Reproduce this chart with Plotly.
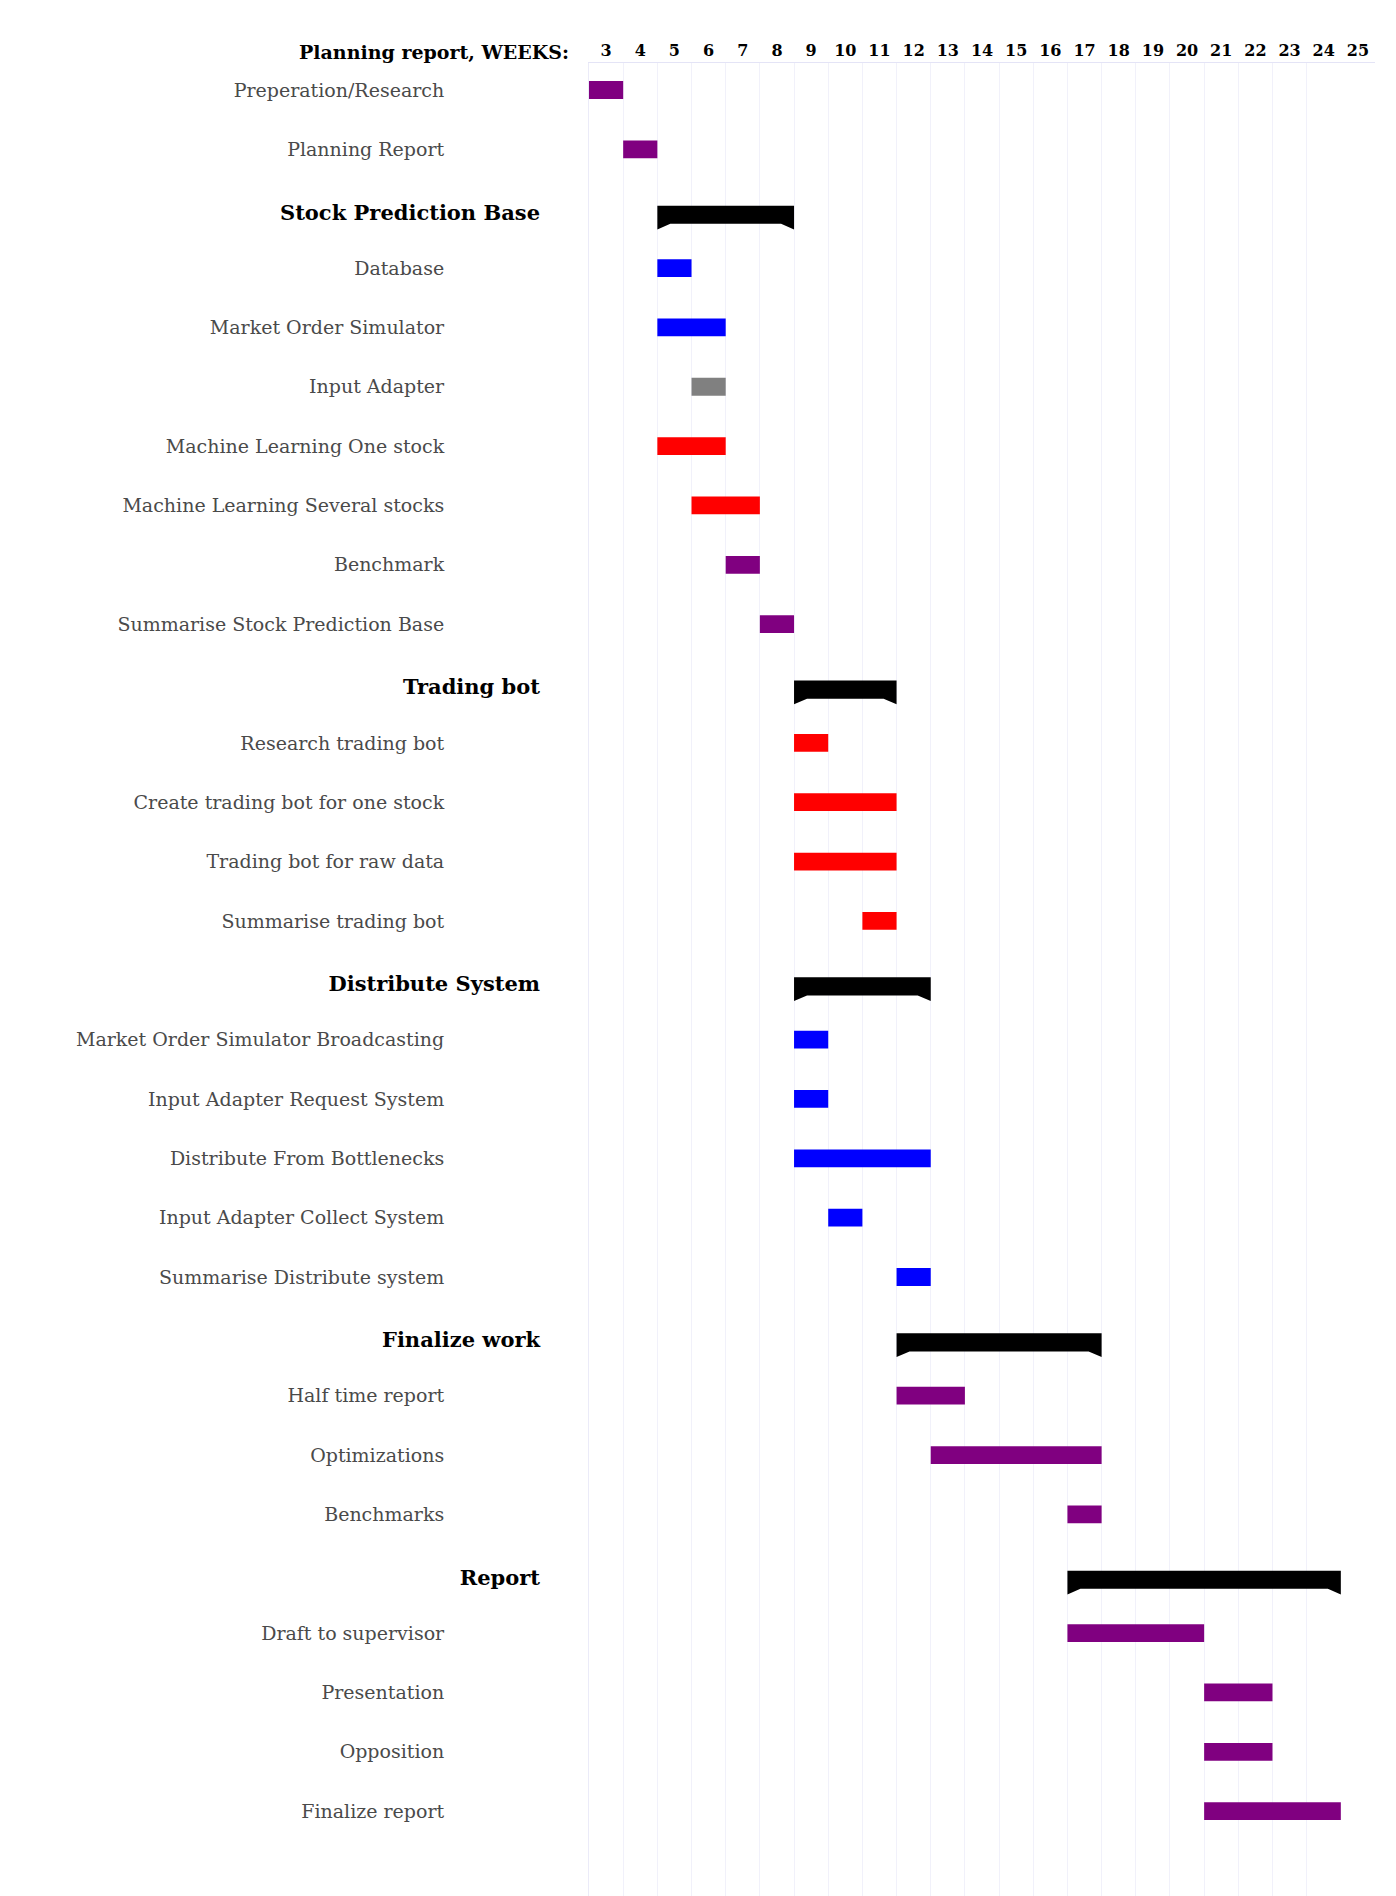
import plotly.graph_objects as go

# ---------------- data ----------------
row_labels = [
    "Preperation/Research", "Planning Report",
    "Stock Prediction Base",
    "Database", "Market Order Simulator", "Input Adapter",
    "Machine Learning One stock", "Machine Learning Several stocks",
    "Benchmark", "Summarise Stock Prediction Base",
    "Trading bot",
    "Research trading bot", "Create trading bot for one stock",
    "Trading bot for raw data", "Summarise trading bot",
    "Distribute System",
    "Market Order Simulator Broadcasting", "Input Adapter Request System",
    "Distribute From Bottlenecks", "Input Adapter Collect System",
    "Summarise Distribute system",
    "Finalize work",
    "Half time report", "Optimizations", "Benchmarks",
    "Report",
    "Draft to supervisor", "Presentation", "Opposition", "Finalize report",
]
start_week = [3, 4, 5, 5, 5, 6, 5, 6, 7, 8, 9, 9, 9, 9, 11, 9, 9, 9, 9, 10, 12,
              12, 12, 13, 17, 17, 17, 21, 21, 21]
end_week = [3, 4, 8, 5, 6, 6, 6, 7, 7, 8, 11, 9, 11, 11, 11, 12, 9, 9, 12, 10, 12,
            17, 13, 17, 17, 24, 20, 22, 22, 24]
category = ["doc", "doc", "group", "sys", "sys", "misc", "ml", "ml", "doc", "doc",
            "group", "ml", "ml", "ml", "ml",
            "group", "sys", "sys", "sys", "sys", "sys",
            "group", "doc", "doc", "doc",
            "group", "doc", "doc", "doc", "doc"]
weeks = list(range(3, 26))
axis_title = "Planning report, WEEKS:"

# ---------------- style ----------------
colors = {"doc": "#800080", "sys": "#0000ff", "ml": "#ff0000", "misc": "#808080"}
FONT = "DejaVu Serif"
W, H = 1396, 1896
ML, MR, MT, MB = 589, 21, 63, 0
rows = list(range(len(row_labels)))
y_top, y_bottom = -0.455, 30.43
group_label_offset = 0.06

fig = go.Figure()

# task bars, one trace per colour category
for cat, col in colors.items():
    idx = [i for i in rows if category[i] == cat]
    fig.add_trace(go.Bar(
        y=[rows[i] for i in idx],
        x=[end_week[i] - start_week[i] + 1 for i in idx],
        base=[start_week[i] - 0.5 for i in idx],
        orientation="h", width=0.30,
        marker=dict(color=col, line=dict(width=0)),
        showlegend=False, hoverinfo="skip",
    ))

# group bars (black bracket shape)
inset = 0.38
for i in rows:
    if category[i] != "group":
        continue
    x0, x1 = start_week[i] - 0.5, end_week[i] + 0.5
    r = rows[i]
    top, mb, tip = r - 0.05, r + 0.255, r + 0.35
    fig.add_trace(go.Scatter(
        x=[x0, x1, x1, x1 - inset, x0 + inset, x0, x0],
        y=[top, top, tip, mb, mb, tip, top],
        mode="lines", fill="toself", fillcolor="black",
        line=dict(width=0, color="black"),
        showlegend=False, hoverinfo="skip",
    ))

task_rows = [i for i in rows if category[i] != "group"]
group_rows = [i for i in rows if category[i] == "group"]

fig.update_layout(
    width=W, height=H,
    margin=dict(l=ML, r=MR, t=MT, b=MB, pad=0),
    plot_bgcolor="white", paper_bgcolor="white",
    font=dict(family=FONT),
    barmode="overlay",
    xaxis=dict(
        range=[weeks[0] - 0.5, weeks[-1] + 0.5],
        side="top",
        tickmode="array", tickvals=weeks,
        ticktext=[f"<b>{w}</b>" for w in weeks],
        tickfont=dict(size=16, color="black", family=FONT),
        showgrid=False, zeroline=False,
        showline=True, linecolor="#e4e4f6", linewidth=1,
        ticks="",
        minor=dict(tickvals=[w - 0.5 for w in weeks[:-1]], showgrid=True,
                   gridcolor="#f1f1fa", gridwidth=1, ticks=""),
        fixedrange=True,
    ),
    yaxis=dict(
        range=[y_bottom, y_top],
        tickmode="array",
        tickvals=[rows[i] for i in task_rows],
        ticktext=[row_labels[i] for i in task_rows],
        tickfont=dict(size=19, color="#4a4a4a", family=FONT),
        ticklabelstandoff=140,
        showgrid=False, zeroline=False,
        showline=True, linecolor="#ebebf8", linewidth=1,
        ticks="",
    ),
    yaxis2=dict(
        overlaying="y", side="left", anchor="x",
        range=[y_bottom, y_top],
        tickmode="array",
        tickvals=[rows[i] + group_label_offset for i in group_rows],
        ticktext=[f"<b>{row_labels[i]}</b>" for i in group_rows],
        tickfont=dict(size=21, color="black", family=FONT),
        ticklabelstandoff=48,
        showgrid=False, zeroline=False, showline=False, ticks="",
    ),
    annotations=[dict(
        text=f"<b>{axis_title}</b>", xref="paper", yref="paper",
        x=0, y=1, xanchor="right", yanchor="middle",
        xshift=-18, yshift=11, showarrow=False,
        font=dict(size=19, color="black", family=FONT),
    )],
)

# invisible trace so yaxis2 is drawn
fig.add_trace(go.Scatter(x=[weeks[0]], y=[0], yaxis="y2", mode="markers",
                         marker=dict(opacity=0), showlegend=False,
                         hoverinfo="skip"))

fig.write_html("out.html")
